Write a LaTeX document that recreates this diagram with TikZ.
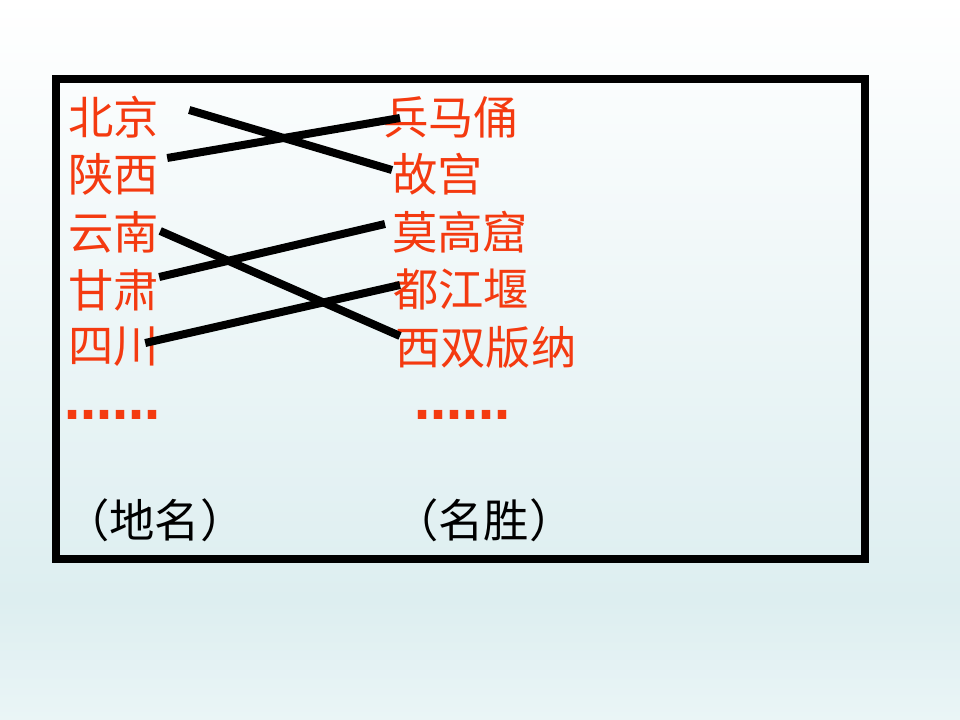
\documentclass[tikz,border=0pt]{standalone}
\usepackage{fontspec}
\newfontfamily\cjk{Noto Sans CJK SC}
\newfontfamily\dotfont{DejaVu Sans Bold}
\usepackage{tikz}
\usetikzlibrary{arrows,arrows.meta}

\definecolor{placered}{RGB}{244,58,16}
\definecolor{bgmid}{RGB}{221,238,240}
\definecolor{bglow}{RGB}{234,245,246}

\begin{document}
\begin{tikzpicture}[
x=0.75pt, y=-0.75pt,
place/.style={anchor=west, inner sep=0pt, font=\cjk\fontsize{34}{34}\selectfont, text=placered},
etc/.style={anchor=base west, inner sep=0pt, font=\dotfont\fontsize{36}{36}\selectfont, text=placered},
caption/.style={anchor=west, inner sep=0pt, font=\cjk\fontsize{34}{34}\selectfont, text=black},
frame/.style={line width=6pt, draw=black},
link/.style={line width=6pt, draw=black} ]

% background
\shade[top color=white, bottom color=bgmid] (0,0) rectangle (960,600);
\shade[top color=bgmid, bottom color=bglow] (0,600) rectangle (960,720);
\useasboundingbox (0,0) rectangle (960,720);

\draw[frame] (56,79) rectangle (865,559);

% left column
\node[place] (bj) at (68,117) {北京};

\node[place] (sx) at (68,174) {陕西};

\node[place] (yn) at (68,232) {云南};

\node[place] (gs) at (68,290) {甘肃};

\node[place] (sc) at (68,347) {四川};

\node[etc] (ldots) at (64,419) {……};

\node[caption] (dm) at (64,520) {（地名）};

% right column
\node[place] (bmy) at (383,117) {兵马俑};

\node[place] (gg) at (392,174) {故宫};

\node[place] (mgk) at (392,232) {莫高窟};

\node[place] (djy) at (393,289) {都江堰};

\node[place] (xsbn) at (395,347) {西双版纳};

\node[etc] (rdots) at (414,419) {……};

\node[caption] (ms) at (393,520) {（名胜）};

% matching lines
\draw[link] ([shift={(30,-7)}]bj.east) -- ([shift={(0,-4)}]gg.west);

\draw[link] ([shift={(8,-16)}]sx.east) -- ([shift={(17,1)}]bmy.west);

\draw[link] ([shift={(1,-1)}]yn.east) -- ([shift={(5,-11)}]xsbn.west);

\draw[link] ([shift={(0,-13)}]gs.east) -- ([shift={(-7,-8)}]mgk.west);

\draw[link] ([shift={(-14,-4)}]sc.east) -- ([shift={(7,-4)}]djy.west);

\end{tikzpicture}
\end{document}
